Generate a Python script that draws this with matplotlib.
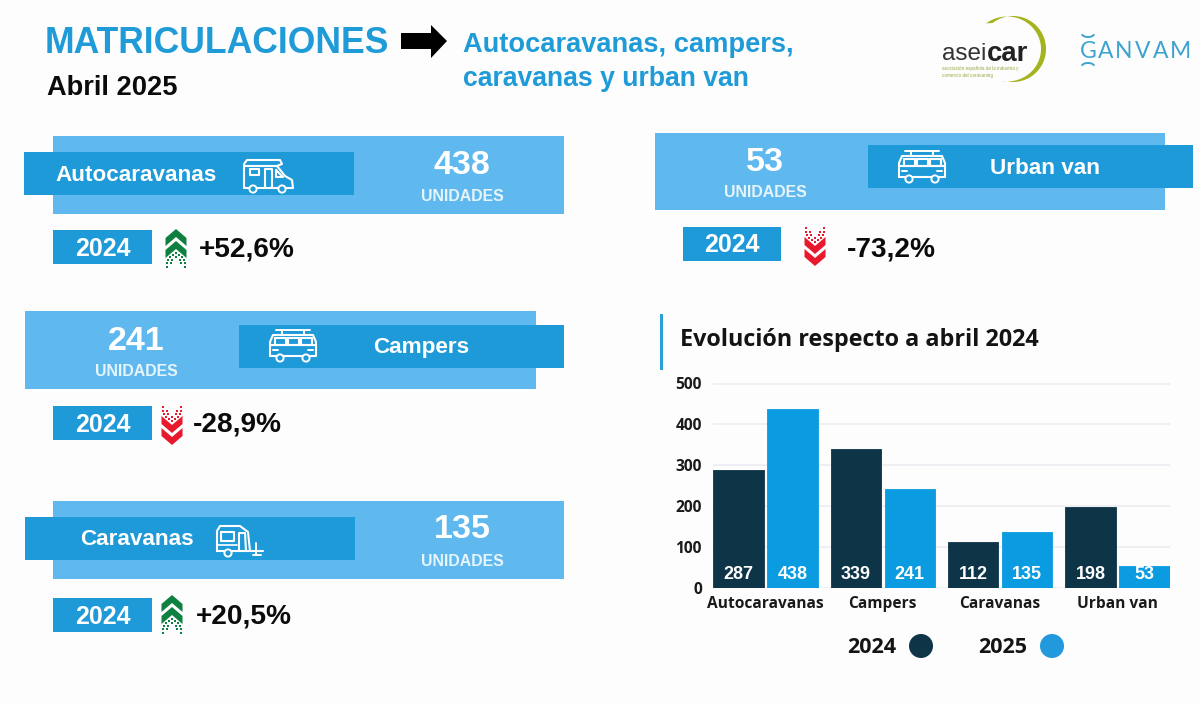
import numpy as np
import matplotlib
matplotlib.use("Agg")
import matplotlib.pyplot as plt
from matplotlib.patches import Rectangle, Polygon, Circle

W, H = 1200, 704
categories = ["Autocaravanas", "Campers", "Caravanas", "Urban van"]
values_2024 = [287, 339, 112, 198]
values_2025 = [438, 241, 135, 53]
pct_changes = ["+52,6%", "-28,9%", "+20,5%", "-73,2%"]
yticks = [0, 100, 200, 300, 400, 500]

BLUE = "#1E9AD9"
LIGHT = "#5FB9EE"
TITLE = "#1F9BD7"
DARK = "#0D3447"
BAR25 = "#0A9BE0"
GREEN = "#0E8040"
RED = "#E8192C"
ARIAL = "Liberation Sans"
OPEN = "Open Sans"

fig = plt.figure(figsize=(W / 100, H / 100), dpi=100, facecolor="#FDFDFD")
bg = fig.add_axes([0, 0, 1, 1])
bg.set_xlim(0, W)
bg.set_ylim(H, 0)
bg.axis("off")


def rect(x0, y0, x1, y1, c, z=1):
    bg.add_patch(Rectangle((x0, y0), x1 - x0, y1 - y0, fc=c, ec="none", zorder=z))


def txt(x, y, s, size, c="white", ha="center", fam=ARIAL, weight="bold", **kw):
    bg.text(x, y + size * 0.11, s, fontsize=size, color=c, ha=ha, va="center", family=fam,
            fontweight=weight, zorder=5, **kw)


def stroke(pts, lw=1.5, closed=False):
    p = np.array(pts, dtype=float)
    if closed:
        p = np.vstack([p, p[0]])
    bg.plot(p[:, 0], p[:, 1], color="white", lw=lw, zorder=6,
            solid_capstyle="round", solid_joinstyle="round")


def wheel(x, y, r=3.6):
    bg.add_patch(Circle((x, y), r, fc=BLUE, ec="white", lw=1.4, zorder=7))


def icon_camper(x, y):
    stroke([(x, y + 14), (x, y - 10), (x + 3, y - 14), (x + 36, y - 14), (x + 38, y - 10),
            (x + 33, y - 8), (x + 41, y + 2), (x + 48, y + 6), (x + 49, y + 14), (x, y + 14)])
    stroke([(x, y - 8), (x + 33, y - 8)])
    stroke([(x + 6, y - 5), (x + 15, y - 5), (x + 15, y + 1), (x + 6, y + 1)], closed=True)
    stroke([(x + 21, y + 14), (x + 21, y - 5), (x + 28, y - 5), (x + 28, y + 14)])
    stroke([(x + 32, y - 4), (x + 39, y + 3), (x + 32, y + 3)], closed=True)
    wheel(x + 9, y + 15)
    wheel(x + 38, y + 15)


def icon_van(x, y):
    stroke([(x, y + 10), (x, y - 4), (x + 3, y - 11), (x + 43, y - 11), (x + 46, y - 4),
            (x + 46, y + 10), (x, y + 10)])
    stroke([(x + 1, y - 1), (x + 45, y - 1)])
    for a, b in [(5, 16), (18, 29), (31, 42)]:
        stroke([(x + a, y - 8), (x + b, y - 8), (x + b, y - 1), (x + a, y - 1)], closed=True)
    stroke([(x + 6, y - 16), (x + 40, y - 16)], lw=1.4)
    stroke([(x + 12, y - 16), (x + 12, y - 11)], lw=1.4)
    stroke([(x + 34, y - 16), (x + 34, y - 11)], lw=1.4)
    stroke([(x + 3, y + 4), (x + 8, y + 4)], lw=1.4)
    stroke([(x + 38, y + 4), (x + 43, y + 4)], lw=1.4)
    wheel(x + 10, y + 12)
    wheel(x + 36, y + 12)


def icon_caravan(x, y):
    stroke([(x, y + 11), (x, y - 9), (x + 3, y - 14), (x + 23, y - 14), (x + 31, y - 8),
            (x + 33, y + 11), (x, y + 11)])
    stroke([(x + 4, y - 8), (x + 17, y - 8), (x + 17, y + 1), (x + 4, y + 1)], closed=True)
    stroke([(x + 22, y + 11), (x + 22, y - 7), (x + 28, y - 7), (x + 29, y + 11)])
    stroke([(x, y + 5), (x + 20, y + 5)], lw=1.2)
    stroke([(x + 33, y + 11), (x + 46, y + 11)])
    stroke([(x + 39, y + 3), (x + 39, y + 15)], lw=1.4)
    stroke([(x + 36, y + 15), (x + 44, y + 15)], lw=1.4)
    wheel(x + 11, y + 13)


def chevrons(cx, cy, up, c):
    w = 10.5
    for off in (0, 12):
        if up:
            tip = cy - 19 + off
            pts = [(cx, tip), (cx + w, tip + 9), (cx + w, tip + 17), (cx, tip + 8),
                   (cx - w, tip + 17), (cx - w, tip + 9)]
        else:
            tip = cy + 21 - off
            pts = [(cx, tip), (cx + w, tip - 9), (cx + w, tip - 17), (cx, tip - 8),
                   (cx - w, tip - 17), (cx - w, tip - 9)]
        bg.add_patch(Polygon(pts, fc=c, ec="none", zorder=3))
    dx = np.array([0, -3, 3, -6, 0, 6, -8, -4, 4, 8, -9, -5, 5, 9, -9, 9])
    dy = np.array([5, 7, 7, 9, 9, 9, 12, 12, 12, 12, 15, 15, 15, 15, 19, 19])
    py = cy + dy if up else cy + 2 - dy
    bg.scatter(cx + dx, py, s=3.2, marker="s", color=c, linewidths=0, zorder=3)


# header
txt(45, 41, "MATRICULACIONES", 25.6, TITLE, ha="left")
txt(47, 86, "Abril 2025", 19.6, "#0B0B0B", ha="left")
bg.add_patch(Polygon([(401, 33), (431, 33), (431, 25), (447, 41), (431, 58), (431, 49), (401, 49)],
                     fc="black", ec="none"))
txt(463, 43, "Autocaravanas, campers,", 19.6, TITLE, ha="left")
txt(463, 77, "caravanas y urban van", 19.2, TITLE, ha="left")

# logos
t = np.radians(np.linspace(-128, 100, 80))
outer = np.c_[1013 + 33 * np.cos(t), 49 + 33 * np.sin(t)]
tin = np.radians(np.linspace(100, -128, 80))
inner = np.c_[1007 + 34 * np.cos(tin), 49 + 32.5 * np.sin(tin)]
bg.add_patch(Polygon(np.vstack([outer, inner]), fc="#A5B31E", ec="none", zorder=2))
txt(942, 52, "asei", 17.5, "#333333", ha="left", weight="normal")
txt(987, 52, "car", 19.8, "#222222", ha="left")
txt(942, 68, "asociación española de la industria y", 3.3, "#9BA845", ha="left", weight="normal")
txt(942, 75, "comercio del caravaning", 3.3, "#9BA845", ha="left", weight="normal")
for ch, x in zip("GANVAM", [1088, 1106, 1124, 1143, 1161, 1181]):
    txt(x, 50, ch, 16.5, "#3FA3CF", fam="Lato", weight="normal")
a = np.radians(np.linspace(20, 160, 20))
bg.plot(1088 + 6 * np.cos(a), 34 + 3 * np.sin(a), color="#3FA3CF", lw=1.4)
bg.plot(1088 + 6 * np.cos(a), 66 - 3 * np.sin(a), color="#3FA3CF", lw=1.4)

NUM, CAT, UNI, YR, PCT = 24.5, 16.2, 11.4, 18, 20.2

# cards
rect(53, 136, 564, 214, LIGHT)
rect(24, 152, 354, 195, BLUE, 2)
txt(136, 174, categories[0], CAT)
icon_camper(244, 174)
txt(462, 163, str(values_2025[0]), NUM)
txt(462, 195, "UNIDADES", UNI, "#E6F4FC")
rect(53, 230, 152, 264, BLUE)
txt(103, 247, "2024", YR)
chevrons(176, 248, True, GREEN)
txt(199, 247, pct_changes[0], PCT, "#0B0B0B", ha="left")

rect(25, 311, 536, 389, LIGHT)
rect(239, 325, 564, 368, BLUE, 2)
txt(421, 346, categories[1], CAT)
icon_van(270, 346)
txt(136, 339, str(values_2025[1]), NUM)
txt(136, 370, "UNIDADES", UNI, "#E6F4FC")
rect(53, 406, 152, 440, BLUE)
txt(103, 423, "2024", YR)
chevrons(172, 424, False, RED)
txt(193, 422, pct_changes[1], PCT, "#0B0B0B", ha="left")

rect(53, 501, 564, 579, LIGHT)
rect(25, 517, 355, 560, BLUE, 2)
txt(137, 538, categories[2], CAT)
icon_caravan(217, 540)
txt(462, 527, str(values_2025[2]), NUM)
txt(462, 560, "UNIDADES", UNI, "#E6F4FC")
rect(53, 598, 152, 632, BLUE)
txt(103, 615, "2024", YR)
chevrons(172, 614, True, GREEN)
txt(196, 614, pct_changes[2], PCT, "#0B0B0B", ha="left")

rect(655, 133, 1165, 210, LIGHT)
rect(868, 145, 1193, 188, BLUE, 2)
txt(1045, 167, categories[3], CAT)
icon_van(899, 167)
txt(765, 160, str(values_2025[3]), NUM)
txt(765, 191, "UNIDADES", UNI, "#E6F4FC")
rect(683, 227, 781, 261, BLUE)
txt(732, 243, "2024", YR)
chevrons(815, 245, False, RED)
txt(847, 247, pct_changes[3], PCT, "#0B0B0B", ha="left")

# chart heading + legend
rect(660, 314, 662.5, 370, "#2A9FD8")
txt(680, 338, "Evolución respecto a abril 2024", 16.8, "#141414", ha="left", fam=OPEN)
txt(872, 646, "2024", 15.5, "#141414", fam=OPEN)
bg.add_patch(Circle((921, 646), 12, fc=DARK, ec="none"))
txt(1003, 646, "2025", 15.5, "#141414", fam=OPEN)
bg.add_patch(Circle((1052, 646), 12, fc="#2199DC", ec="none"))

# bar chart
x0, x1, ytop, ybot = 713, 1170, 383.5, 587.5
ax = fig.add_axes([x0 / W, 1 - ybot / H, (x1 - x0) / W, (ybot - ytop) / H])
ax.patch.set_alpha(0)
pitch = 117.33
ax.set_xlim((x0 - 765.5) / pitch, (x1 - 765.5) / pitch)
ax.set_ylim(0, 500)
xs = np.arange(len(categories))
off, width = 0.2295, 0.43
b1 = ax.bar(xs - off, values_2024, width, color=DARK, edgecolor=DARK, lw=0.6, zorder=3)
b2 = ax.bar(xs + off, values_2025, width, color=BAR25, edgecolor=BAR25, lw=0.6, zorder=3)
for b in list(b1) + list(b2):
    b.set_joinstyle("round")
for pos, vals in ((xs - off, values_2024), (xs + off, values_2025)):
    for x, v in zip(pos, vals):
        ax.annotate(str(v), (x, 0), xytext=(0, 9.5), textcoords="offset points", ha="center",
                    va="center", color="white", fontsize=13, fontweight="bold", family=ARIAL, zorder=5)
ax.set_yticks(yticks)
ax.set_xticks(xs)
ax.set_xticklabels(categories, fontsize=11.2, fontweight="bold", family=OPEN, color="#1A1A1A")
for lab in ax.get_yticklabels():
    lab.set(fontsize=11.2, fontweight="bold", family=OPEN, color="#1A1A1A")
ax.tick_params(length=0, axis="y", pad=8)
ax.tick_params(length=0, axis="x", pad=6)
ax.grid(axis="y", color="#EBEBF0", lw=1.1, zorder=0)
ax.set_axisbelow(True)
for s in ax.spines.values():
    s.set_visible(False)

fig.savefig("out.png", dpi=100, facecolor=fig.get_facecolor())
